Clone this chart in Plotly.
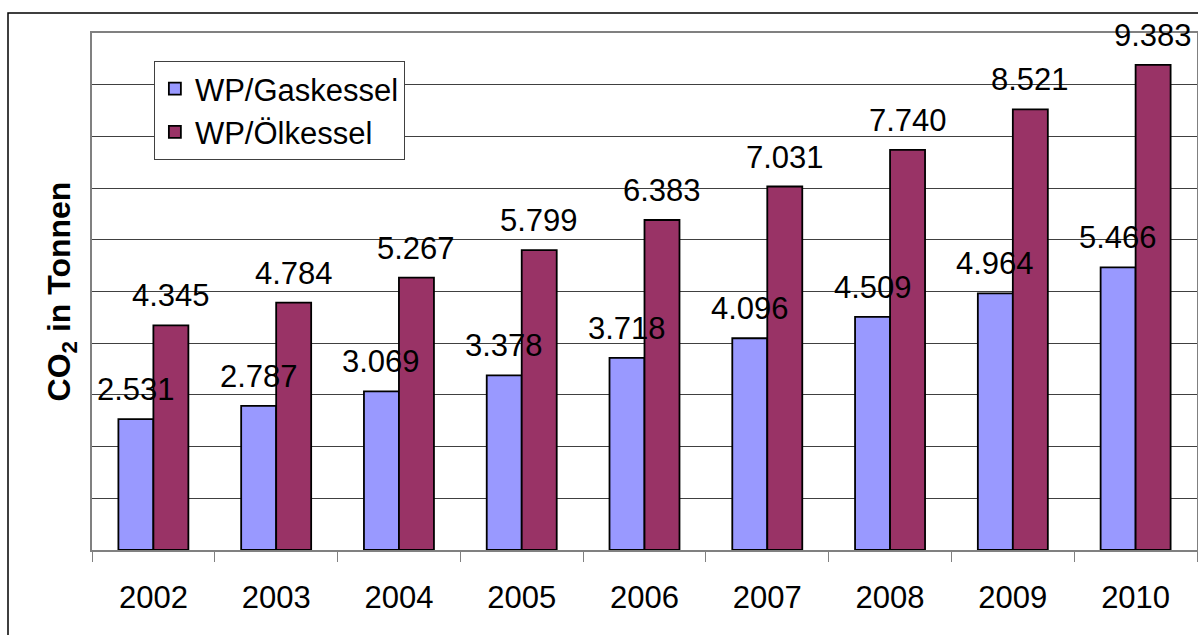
import plotly.graph_objects as go

years = ["2002", "2003", "2004", "2005", "2006", "2007", "2008", "2009", "2010"]
gas = [2.531, 2.787, 3.069, 3.378, 3.718, 4.096, 4.509, 4.964, 5.466]
oil = [4.345, 4.784, 5.267, 5.799, 6.383, 7.031, 7.740, 8.521, 9.383]
gas_name = "WP/Gaskessel"
oil_name = "WP/Ölkessel"

W, H = 1198, 635
ML, MR, MT, MB = 92, 1, 33, 85
BARGAP = 0.43
FONT = "Liberation Sans, Arial, sans-serif"

fig = go.Figure()
fig.add_trace(go.Bar(x=years, y=gas, name=gas_name, marker=dict(color="#9999FF", line=dict(color="black", width=1.8))))
fig.add_trace(go.Bar(x=years, y=oil, name=oil_name, marker=dict(color="#993366", line=dict(color="black", width=1.8))))

catw = (W - ML - MR) / len(years)
barw = catw * (1 - BARGAP) / 2

def fmt(v):
    return f"{v:.3f}"

annotations = []
for i, (g, o) in enumerate(zip(gas, oil)):
    annotations.append(dict(x=i, y=g, text=fmt(g), xshift=-barw / 2, yshift=10, showarrow=False,
                            yanchor="bottom", font=dict(size=31, color="black", family=FONT)))
    annotations.append(dict(x=i, y=o, text=fmt(o), xshift=barw / 2, yshift=10, showarrow=False,
                            yanchor="bottom", font=dict(size=31, color="black", family=FONT)))

fig.update_layout(
    width=W, height=H,
    margin=dict(l=ML, r=MR, t=MT, b=MB),
    paper_bgcolor="white", plot_bgcolor="white",
    barmode="group", bargap=BARGAP, bargroupgap=0,
    font=dict(family=FONT, color="black"),
    showlegend=True,
    legend=dict(x=0.056, y=0.946, xanchor="left", yanchor="top",
                bgcolor="white", bordercolor="#404040", borderwidth=1,
                font=dict(size=31, family=FONT), traceorder="normal"),
    annotations=annotations,
    shapes=[dict(type="rect", xref="paper", yref="paper",
                 x0=(8 - ML) / (W - ML - MR), x1=(1205 - ML) / (W - ML - MR),
                 y0=(H - MB - 640) / (H - MT - MB), y1=(H - MB - 13) / (H - MT - MB),
                 line=dict(color="black", width=1.5), layer="below")],
)
fig.update_xaxes(type="category", automargin=False, range=[-0.5, len(years) - 0.5],
                 showline=True, linecolor="#808080", linewidth=1.5, mirror=True,
                 ticks="outside", tickson="boundaries", ticklen=10, tickcolor="#808080",
                 tickfont=dict(size=31, family=FONT, color="black"), ticklabelstandoff=19,
                 showgrid=False)
fig.update_yaxes(range=[0, 10], dtick=1, showticklabels=False, ticks="", automargin=False,
                 showgrid=True, gridcolor="#404040", gridwidth=1,
                 showline=True, linecolor="#808080", linewidth=1.5, mirror=True,
                 zeroline=False,
                 title=dict(text="<b>CO<sub>2</sub> in Tonnen</b>", standoff=10,
                            font=dict(size=32, family=FONT, color="black")))

fig.write_html("out.html", config={"displayModeBar": False},
               post_script="document.body.style.margin='0';")
